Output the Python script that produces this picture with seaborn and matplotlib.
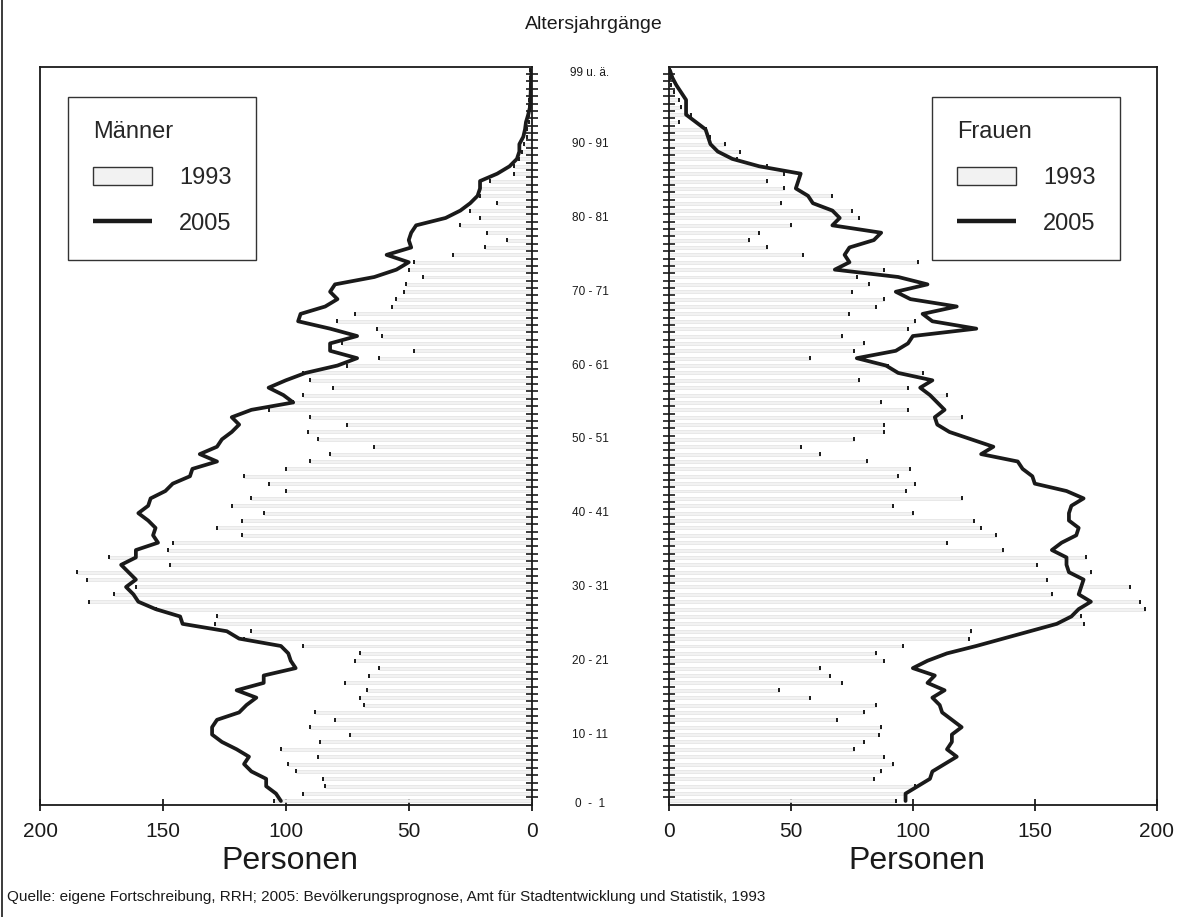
import matplotlib
matplotlib.use("Agg")
import matplotlib.pyplot as plt
import matplotlib.transforms as mtransforms
from matplotlib.patches import Patch
from matplotlib.lines import Line2D
import numpy as np
import pandas as pd
import seaborn as sns

# age groups 0..99 (last one = 99 and older)
ages = list(range(100))
age_labels = ["0  -  1", "10 - 11", "20 - 21", "30 - 31", "40 - 41", "50 - 51",
              "60 - 61", "70 - 71", "80 - 81", "90 - 91", "99 u. ä."]
# where the labels sit on the age axis
label_pos = [-0.4, 9, 19, 29, 39, 49, 59, 69, 79, 89, 98.6]
x_ticks = [0, 50, 100, 150, 200]

# Männer
maenner_1993 = [105, 93, 84, 85, 96, 99, 87, 102, 86, 74,
                90, 80, 88, 68, 70, 67, 76, 66, 62, 72,
                70, 93, 117, 114, 129, 128, 153, 180, 170, 161,
                181, 185, 147, 172, 148, 146, 118, 128, 118, 109,
                122, 114, 100, 107, 117, 100, 90, 82, 64, 87,
                91, 75, 90, 107, 97, 93, 81, 90, 93, 75,
                62, 48, 77, 61, 63, 79, 72, 57, 55, 52,
                51, 44, 50, 48, 32, 19, 10, 18, 29, 21,
                25, 14, 21, 21, 17, 7, 7, 5, 4, 3,
                2, 2, 1, 1, 1, 1, 0.5, 0.5, 0.5, 0.5]
maenner_2005 = [102, 104, 108, 108, 114, 117, 115, 120, 126, 130,
                130, 128, 119, 116, 112, 120, 109, 109, 96, 98,
                99, 102, 119, 124, 142, 143, 153, 160, 162, 165,
                161, 164, 167, 161, 161, 152, 154, 153, 156, 160,
                156, 155, 149, 146, 139, 138, 128, 135, 128, 126,
                122, 119, 122, 114, 97, 101, 107, 100, 92, 79,
                71, 82, 82, 71, 82, 95, 94, 84, 79, 82,
                80, 64, 55, 50, 59, 49, 50, 49, 47, 35,
                29, 25, 22, 21, 21, 14, 9, 6, 5, 5,
                3.4, 2.7, 2.3, 1.4, 0.7, 0.5, 0.4, 0.3, 0.2, 0.1]

# Frauen
frauen_1993 = [93, 97, 101, 84, 87, 92, 88, 76, 80, 86,
               87, 69, 80, 85, 58, 45, 71, 66, 62, 88,
               85, 96, 123, 124, 170, 169, 195, 193, 157, 189,
               155, 173, 151, 171, 137, 114, 134, 128, 125, 100,
               92, 120, 97, 101, 94, 99, 81, 62, 54, 76,
               88, 88, 120, 98, 87, 114, 98, 78, 104, 90,
               58, 76, 80, 71, 98, 101, 74, 85, 88, 75,
               82, 77, 88, 102, 55, 40, 33, 37, 50, 78,
               75, 46, 67, 47, 40, 47, 40, 28, 29, 23,
               17, 15, 4, 9, 5, 4, 2, 1, 0.5, 0.5]
frauen_2005 = [97, 97, 102, 107, 108, 113, 118, 114, 116, 116,
               120, 116, 112, 111, 108, 113, 106, 109, 100, 106,
               114, 126, 137, 148, 159, 165, 168, 173, 168, 169,
               170, 164, 163, 163, 157, 161, 167, 168, 164, 164,
               165, 170, 163, 150, 149, 145, 143, 128, 133, 124,
               115, 110, 109, 113, 110, 107, 103, 108, 94, 89,
               77, 93, 98, 100, 126, 108, 104, 118, 99, 93,
               106, 94, 68, 74, 72, 74, 84, 87, 67, 70,
               67, 59, 57, 52, 53, 54, 37, 26, 20, 17,
               16, 15, 11, 7, 7, 7, 5, 3, 1.4, 0.4]

sns.set_style("white")
plt.rcParams["font.family"] = ["Liberation Sans", "DejaVu Sans"]

INK = "#1a1a1a"
BAR = "#f2f2f2"

fig = plt.figure(figsize=(11.87, 9.17), dpi=100)
ax_m = fig.add_axes([0.0337, 0.1221, 0.4142, 0.8048])
ax_f = fig.add_axes([0.5636, 0.1221, 0.4109, 0.8048])

# thin frame line on the left edge of the page
fig.add_artist(Line2D([0.002, 0.002], [0, 1], transform=fig.transFigure,
                      color=INK, linewidth=1.2))


def draw_side(ax, v93, v05, title, legend_x, tick_side):
    df = pd.DataFrame({"age": ages, "v93": v93, "v05": v05})
    sns.barplot(data=df, x="v93", y="age", orient="y", native_scale=True,
                width=0.4, color=BAR, saturation=1, edgecolor="#dcdcdc",
                linewidth=0.4, errorbar=None, ax=ax)
    sns.scatterplot(data=df, x="v93", y="age", marker="|", s=7,
                    linewidth=1.4, color=INK, ax=ax, zorder=3)
    sns.lineplot(data=df, x="v05", y="age", sort=False, estimator=None,
                 orient="y", color=INK, linewidth=2.7, ax=ax, zorder=4)

    ax.set_ylim(-0.55, 99.45)
    ax.set_xticks(x_ticks)
    ax.set_yticks(np.array(ages[:-1]) + 0.5)
    ax.set_yticklabels([])
    ax.set_xlabel("")
    ax.set_ylabel("")
    ax.yaxis.set_ticks_position(tick_side)
    ax.tick_params(axis="x", direction="inout", length=8, width=1.3,
                   labelsize=15, pad=8, colors=INK, bottom=True)
    ax.tick_params(axis="y", direction="inout", length=9, width=1.2, colors=INK)
    for sp in ax.spines.values():
        sp.set_visible(True)
        sp.set_color(INK)
        sp.set_linewidth(1.3)

    handles = [Patch(facecolor=BAR, edgecolor="#333333", linewidth=1.0, label="1993"),
               Line2D([], [], color=INK, linewidth=3.2, solid_capstyle="butt",
                      label="2005")]
    leg = ax.legend(handles=handles, title=title, loc="upper left",
                    bbox_to_anchor=(legend_x, 0.96), borderaxespad=0,
                    fontsize=17, title_fontsize=17, alignment="left",
                    frameon=True, fancybox=False, framealpha=1,
                    edgecolor="#333333", borderpad=1.05, labelspacing=1.0,
                    handlelength=2.5, handleheight=0.78, handletextpad=1.15)
    leg.get_frame().set_linewidth(1.0)


draw_side(ax_m, maenner_1993, maenner_2005, "Männer", 0.057, "right")
ax_m.set_xlim(200, 0)
draw_side(ax_f, frauen_1993, frauen_2005, "Frauen", 0.539, "left")
ax_f.set_xlim(0, 200)

# age labels between the two halves
trans = mtransforms.blended_transform_factory(ax_f.transAxes, ax_f.transData)
for p, lab in zip(label_pos, age_labels):
    ax_f.text(-0.162, p, lab, transform=trans, ha="center", va="center",
              fontsize=8.5, color=INK)

fig.text(0.5, 0.973, "Altersjahrgänge", ha="center", va="center", fontsize=14, color=INK)
fig.text(0.2443, 0.0615, "Personen", ha="center", va="center", fontsize=23, color=INK)
fig.text(0.7725, 0.0615, "Personen", ha="center", va="center", fontsize=23, color=INK)
fig.text(0.006, 0.022,
         "Quelle: eigene Fortschreibung, RRH; 2005: Bevölkerungsprognose, "
         "Amt für Stadtentwicklung und Statistik, 1993",
         ha="left", va="center", fontsize=11, color=INK)

fig.savefig("out.png", dpi=100)
